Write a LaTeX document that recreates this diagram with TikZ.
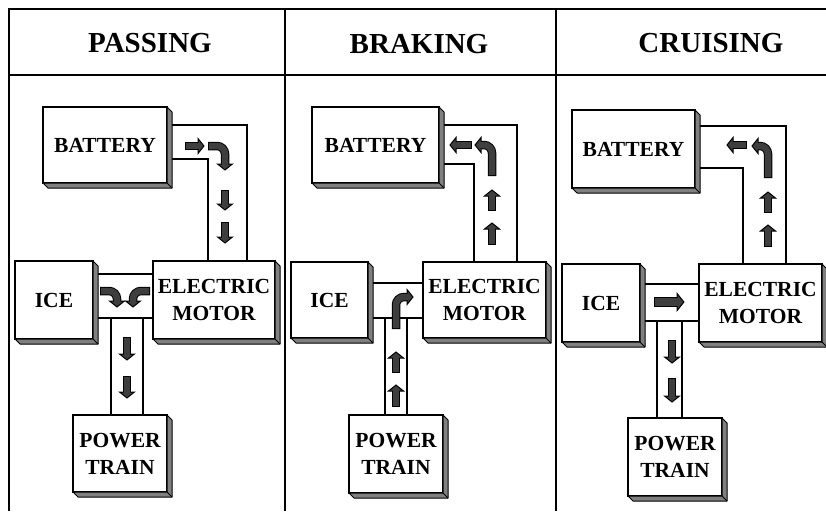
\documentclass[tikz,border=0pt]{standalone}
\usepackage{fontspec}
\setmainfont{Liberation Serif}
\usetikzlibrary{calc,backgrounds}
\definecolor{sidegray}{RGB}{128,128,128}
\definecolor{arrowgray}{RGB}{62,62,62}
\tikzset{
  frame/.style={line width=1.3pt},
  box3d/.style={draw, line width=1.2pt, fill=white, inner sep=0pt, outer sep=0pt, align=center,
    font=\fontsize{21.5}{27}\selectfont\bfseries},
  side/.style={draw, line width=1pt, fill=sidegray, line join=round},
  chan/.style={line width=1.1pt},
  hdr/.style={font=\fontsize{29}{34}\selectfont\bfseries, inner sep=0pt},
  headst/.style={fill=arrowgray, draw=black, line width=1pt, line join=miter},
}
\newcommand\tdbox[6]{%
  \node[box3d, minimum width={(#4-#2)*1pt}, minimum height={(#5-#3)*1pt}] (#1) at ({(#2+#4)/2},{(#3+#5)/2}) {#6};
  \filldraw[side] (#1.north east) -- ++(5,5) -- ($(#1.south east)+(5,5)$) -- ($(#1.south west)+(5,5)$) -- (#1.south west) -- (#1.south east) -- cycle;
  \draw[side] (#1.south east) -- ++(5,5);
}
\newcommand\barrow[4][1]{%
  \draw[line width={(8.5*#1)*1pt}, rounded corners=8pt] #2 -- #3;
  \filldraw[headst, shift={#3}, rotate=#4] (0,{-7.5*#1}) -- ({6*#1},0) -- (0,{7.5*#1}) -- cycle;
  \draw[arrowgray, line width={(8.5*#1-2)*1pt}, rounded corners=8pt, shorten <=1pt, shorten >=-1.5pt] #2 -- #3;
}
\begin{document}
\begin{tikzpicture}[x=1pt, y=-1pt]
\useasboundingbox (0,0) rectangle (826,511);
% frame
\draw[frame] (9,511) -- (9,9) -- (826,9);
\draw[frame] (9,75) -- (826,75);
\draw[frame] (285,9) -- (285,511);
\draw[frame] (556,9) -- (556,511);
\node[hdr] (h1) at (150,43) {PASSING};
\node[hdr] (h2) at (419,44) {BRAKING};
\node[hdr] (h3) at (711,43) {CRUISING};

% ---------- PASSING ----------
\tdbox{bat1}{43}{107}{167}{183}{BATTERY}
\tdbox{ice1}{15}{261}{93}{339}{ICE}
\tdbox{em1}{153}{261}{275}{339}{ELECTRIC\\MOTOR}
\tdbox{pt1}{73}{415}{167}{492}{POWER\\TRAIN}
\begin{scope}[on background layer]
\draw[chan] (bat1.east |- 0,125) -| (em1.north -| 247,0);
\draw[chan] (bat1.east |- 0,159) -| (em1.north -| 208,0);
\draw[chan] (ice1.east |- 0,274) -- (em1.west |- 0,274);
\draw[chan] (ice1.east |- 0,318) -- (em1.west |- 0,318);
\draw[chan] (111,318) -- (pt1.north -| 111,0);
\draw[chan] (143,318) -- (pt1.north -| 143,0);
\end{scope}
\barrow{(185,146)}{(198,146)}{0}
\barrow{(208,146) -- (225,146)}{(225,164)}{-90}
\barrow{(225,190)}{(225,204)}{-90}
\barrow{(225,222)}{(225,237)}{-90}
\barrow{(100,291) -- (117,291)}{(117,301)}{-90}
\barrow{(150,291) -- (133,291)}{(133,301)}{-90}
\barrow{(127,337)}{(127,354)}{-90}
\barrow{(127,376)}{(127,392)}{-90}

% ---------- BRAKING ----------
\tdbox{bat2}{312}{107}{439}{183}{BATTERY}
\tdbox{ice2}{291}{262}{368}{338}{ICE}
\tdbox{em2}{423}{262}{546}{338}{ELECTRIC\\MOTOR}
\tdbox{pt2}{349}{415}{443}{493}{POWER\\TRAIN}
\begin{scope}[on background layer]
\draw[chan] (bat2.east |- 0,125) -| (em2.north -| 517,0);
\draw[chan] (bat2.east |- 0,164) -| (em2.north -| 474,0);
\draw[chan] (ice2.east |- 0,283) -- (em2.west |- 0,283);
\draw[chan] (ice2.east |- 0,318) -- (em2.west |- 0,318);
\draw[chan] (385,318) -- (pt2.north -| 385,0);
\draw[chan] (407,318) -- (pt2.north -| 407,0);
\end{scope}
\barrow{(472,145)}{(456,145)}{180}
\barrow{(492,176) -- (492,145)}{(481,145)}{180}
\barrow{(492,211)}{(492,196)}{90}
\barrow{(492,245)}{(492,229)}{90}
\barrow{(396,329) -- (396,297)}{(407,297)}{0}
\barrow{(396,373)}{(396,358)}{90}
\barrow{(396,407)}{(396,391)}{90}

% ---------- CRUISING ----------
\tdbox{bat3}{572}{110}{695}{188}{BATTERY}
\tdbox{ice3}{562}{264}{640}{342}{ICE}
\tdbox{em3}{699}{264}{822}{342}{ELECTRIC\\MOTOR}
\tdbox{pt3}{628}{418}{722}{496}{POWER\\TRAIN}
\begin{scope}[on background layer]
\draw[chan] (bat3.east |- 0,126) -| (em3.north -| 786,0);
\draw[chan] (bat3.east |- 0,168) -| (em3.north -| 743,0);
\draw[chan] (ice3.east |- 0,284) -- (em3.west |- 0,284);
\draw[chan] (ice3.east |- 0,321) -- (em3.west |- 0,321);
\draw[chan] (657,321) -- (pt3.north -| 657,0);
\draw[chan] (682,321) -- (pt3.north -| 682,0);
\end{scope}
\barrow{(747,145)}{(733,145)}{180}
\barrow{(768,178) -- (768,146)}{(758,146)}{180}
\barrow{(768,213)}{(768,198)}{90}
\barrow{(768,247)}{(768,231)}{90}
\barrow[1.15]{(654,302)}{(677,302)}{0}
\barrow{(672,340)}{(672,357)}{-90}
\barrow{(672,378)}{(672,396)}{-90}
\end{tikzpicture}
\end{document}
